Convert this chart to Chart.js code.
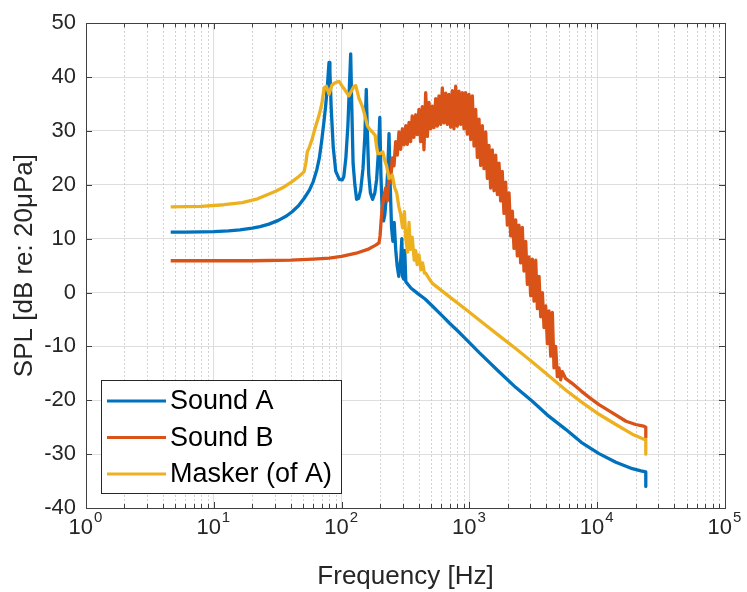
<!DOCTYPE html>
<html>
<head>
<meta charset="utf-8">
<title>SPL spectra</title>
<script src="https://cdn.jsdelivr.net/npm/chart.js@4.4.1/dist/chart.umd.min.js"></script>
<style>
  html, body { margin: 0; padding: 0; background: #fff; }
  canvas { display: block; }
</style>
</head>
<body>
<canvas id="spl" width="747" height="592"></canvas>
<script>
// Sound A: spectrum with the low-frequency resonances
const freqA = [4.6, 6, 8, 10, 13, 16, 20, 23, 27, 32,
  37, 41, 46, 51, 56, 60, 64, 67, 70, 73,
  75, 77.5, 79.7, 81, 83, 86, 90, 96, 101, 104,
  108, 112, 115, 117.8, 120, 123, 127, 131, 136, 141,
  147, 152, 156, 159, 163, 168, 175, 182, 188, 194,
  199, 203, 208, 213, 218, 224, 230, 235, 240, 246,
  252, 258, 265, 272, 280, 290, 296, 300, 306, 312,
  318, 350, 400, 450, 513, 600, 700, 800, 935, 1200,
  1706, 2300, 3107, 4200, 5670, 7500, 10330, 14000, 18830, 22000,
  24000, 24000];
const splA = [11.2, 11.2, 11.25, 11.3, 11.45, 11.65, 11.95, 12.25, 12.7, 13.4,
  14.2, 15.0, 16.1, 17.5, 19.0, 20.6, 22.8, 25.0, 28.3, 32,
  34.6, 38.5, 42.7, 41, 34, 27, 22.5, 21, 20.9, 21.5,
  25, 31, 38, 44.3, 35, 24, 20, 17.3, 17.5, 19,
  23, 29, 37.7, 30, 22, 18.5, 17.3, 18.5, 21, 26,
  32.5, 22, 15, 13.3, 14.5, 18, 23, 29.5, 20, 12,
  9.5, 13, 8, 5, 3, 6, 10, 3, 2.5, 7.8,
  2.0, 0.8, -0.3, -1.2, -2.5, -4.1, -5.7, -7.0, -8.6, -11.2,
  -14.7, -17.6, -20.2, -23, -25.4, -27.8, -29.9, -31.5, -32.7, -33.1,
  -33.3, -36];

// Sound B: broadband noise, traced back and forth between the band edges
const freqB = [4.6, 10, 20, 40, 60, 80, 100, 130, 160, 185,
  196, 200, 204, 208, 214,
  221, 228, 235, 242, 249, 257, 265, 273, 281, 290,
  299, 308, 318, 327, 337, 347, 357, 368, 380, 391,
  403, 415, 428, 441, 455, 469, 483, 498, 513, 528,
  545, 561, 578, 596, 614, 633, 653, 672, 692, 713,
  735, 757, 781, 804, 829, 854, 881, 907, 935, 963,
  993, 1023, 1055, 1087, 1120, 1154, 1189, 1225, 1262, 1301,
  1342, 1382, 1423, 1466, 1511, 1558, 1606, 1655, 1706, 1756,
  1808, 1864, 1922, 1981, 2042, 2104, 2168, 2234, 2302, 2372,
  2444, 2518, 2594, 2675, 2758, 2842, 2927, 3015, 3107, 3204,
  3304, 3404, 3508, 3614, 3724, 3837, 3954, 4074, 4198, 4326,
  4457, 4592, 4732, 4876, 5024, 5177, 5334,
  5670, 6330, 7500, 8800, 10330, 12500, 16800, 20000, 23000, 24000,
  24000];
const splB = [5.9, 5.9, 5.9, 6.0, 6.2, 6.4, 6.7, 7.3, 8.0, 8.8,
  9.2, 10.5, 13.5, 15.8, 17.8,
  19.4, 17.0, 22, 20.5, 25, 23.5, 28, 25.5, 29.8, 26.6,
  30.4, 27.4, 31.0, 27.5, 31.6, 28.0, 32.8, 28.8, 33.0, 29.3,
  34.0, 28.0, 34.5, 26.5, 37.1, 29.0, 35.3, 30.4, 34.6, 30.6,
  36.0, 30.9, 36.5, 31.2, 38.0, 31.5, 37.0, 31.2, 36.8, 30.7,
  37.5, 30.4, 38.3, 30.9, 37.4, 31.2, 37.1, 30.4, 37.1, 29.4,
  36.8, 28.4, 36.5, 27.2, 34.0, 25.1, 32.2, 23.6, 31.0, 23.0,
  29.8, 21.2, 27.3, 19.4, 26.5, 18.9, 25.5, 18.2, 24.0, 17.0,
  22.5, 14.7, 20.5, 12.5, 18.5, 10.5, 15.1, 8.2, 13.5, 6.8,
  12.5, 5.5, 12.1, 4.0, 9.5, 1.5, 6.6, -0.6, 6.2, -1.6,
  6.0, -3.0, 3.0, -4.5, 0, -6.5, -2.5, -9.5, -3.4, -11.8,
  -3.7, -14, -10, -15.6, -14, -16.2, -14.7,
  -16.0, -16.8, -18.3, -19.6, -20.8, -22.0, -23.9, -24.5, -24.8, -25.0,
  -26.9];

// Masker (of A)
const freqM = [4.6, 8, 12, 16.7, 22, 30.5, 36, 41, 46, 50.8,
  52.5, 53.9, 56, 59, 62, 66.5, 70, 73, 76, 79.7,
  84, 90, 95.5, 101, 107, 114, 120, 125, 129, 137,
  145, 150, 159, 166, 174, 183, 188, 192, 200, 210,
  218, 225, 235, 249, 260, 270, 280, 290, 300, 310,
  318, 328, 337, 345, 357, 370, 380, 390, 403, 417,
  430, 445, 455, 483, 513, 700, 935, 1300, 1706, 2300,
  3107, 4200, 5670, 7500, 10330, 14000, 18830, 23000, 24000, 24000];
const splM = [15.9, 16.0, 16.3, 16.7, 17.4, 18.8, 19.7, 20.6, 21.5, 22.4,
  24, 26.1, 27.0, 28.6, 30.5, 32.8, 35, 38.0, 38.3, 36.8,
  38.5, 39.0, 39.2, 38.3, 37.5, 36.5, 37.5, 38.3, 38.4, 36,
  34.6, 33.4, 31.0, 30.3, 29.8, 29.2, 27, 25.8, 25.8, 26.1,
  24.5, 23.5, 21.2, 21.8, 19.5, 18.5, 16.0, 14.5, 12.0, 15.0,
  10.0, 7.5, 13.0, 8.0, 10.3, 6.0, 7.8, 5.2, 7.0, 4.2,
  5.5, 3.6, 3.6, 2.6, 1.7, -0.8, -3.1, -5.8, -8.0, -10.4,
  -12.9, -15.5, -18.1, -20.3, -22.6, -24.5, -26.3, -27.2, -27.3, -30];

const seriesNames = ['Sound A', 'Sound B', 'Masker (of A)'];
const seriesColors = ['#0072BD', '#D95319', '#EDB120'];

const decadeTicks = [1, 10, 100, 1000, 10000, 100000];
const decadeExponents = ['0', '1', '2', '3', '4', '5'];
const minorSteps = [2, 3, 4, 5, 6, 7, 8, 9];
const splTicks = [-40, -30, -20, -10, 0, 10, 20, 30, 40, 50];
const splLabels = ['-40', '-30', '-20', '-10', '0', '10', '20', '30', '40', '50'];

const minorTicks = decadeTicks.slice(0, -1).flatMap(d => minorSteps.map(m => m * d));

function toPoints(freq, spl) {
  return freq.map((f, i) => ({ x: f, y: spl[i] }));
}

const FONT = "'Liberation Sans', Arial, Helvetica, sans-serif";
const AXIS_INK = '#262626';
Chart.defaults.font.family = FONT;

// dotted minor grid, box with inward ticks, 10^n labels and the legend
const matlabAxes = {
  id: 'matlabAxes',
  beforeDatasetsDraw(chart) {
    const { ctx, chartArea: a, scales: { x } } = chart;
    ctx.save();
    ctx.strokeStyle = '#c4c4c4';
    ctx.lineWidth = 1;
    ctx.setLineDash([1.5, 2.5]);
    minorTicks.forEach(v => {
      const px = Math.round(x.getPixelForValue(v)) + 0.5;
      ctx.beginPath();
      ctx.moveTo(px, a.top);
      ctx.lineTo(px, a.bottom);
      ctx.stroke();
    });
    ctx.restore();
  },
  afterDatasetsDraw(chart) {
    const { ctx, chartArea: a, scales: { x, y } } = chart;
    ctx.save();
    ctx.strokeStyle = '#404040';
    ctx.lineWidth = 1;
    ctx.beginPath();
    const tick = (px, len) => {
      ctx.moveTo(px, a.bottom);
      ctx.lineTo(px, a.bottom - len);
      ctx.moveTo(px, a.top);
      ctx.lineTo(px, a.top + len);
    };
    decadeTicks.forEach(v => tick(Math.round(x.getPixelForValue(v)) + 0.5, 6));
    minorTicks.forEach(v => tick(Math.round(x.getPixelForValue(v)) + 0.5, 4));
    splTicks.forEach(v => {
      const py = Math.round(y.getPixelForValue(v)) + 0.5;
      ctx.moveTo(a.left, py);
      ctx.lineTo(a.left + 6, py);
      ctx.moveTo(a.right, py);
      ctx.lineTo(a.right - 6, py);
    });
    ctx.stroke();
    ctx.strokeRect(Math.round(a.left) + 0.5, Math.round(a.top) + 0.5,
      Math.round(a.right - a.left), Math.round(a.bottom - a.top));

    // decade labels: "10" with a raised exponent
    ctx.fillStyle = AXIS_INK;
    ctx.textBaseline = 'alphabetic';
    ctx.textAlign = 'left';
    decadeTicks.forEach((v, i) => {
      const px = x.getPixelForValue(v);
      ctx.font = '22px ' + FONT;
      const wBase = ctx.measureText('10').width;
      ctx.font = '15px ' + FONT;
      const wExp = ctx.measureText(decadeExponents[i]).width;
      const left = px - (wBase + wExp) / 2 - 1;
      ctx.font = '22px ' + FONT;
      ctx.fillText('10', left, a.bottom + 26);
      ctx.font = '15px ' + FONT;
      ctx.fillText(decadeExponents[i], left + wBase + 1, a.bottom + 14);
    });

    // legend box
    const box = { x: 101, y: 380, w: 240, h: 113 };
    ctx.fillStyle = '#ffffff';
    ctx.fillRect(box.x, box.y, box.w, box.h);
    ctx.strokeStyle = '#262626';
    ctx.strokeRect(box.x + 0.5, box.y + 0.5, box.w, box.h);
    ctx.font = '27px ' + FONT;
    ctx.textBaseline = 'middle';
    ctx.fillStyle = '#000000';
    chart.data.datasets.forEach((ds, i) => {
      const rowY = box.y + 21 + i * 36.5;
      ctx.strokeStyle = ds.borderColor;
      ctx.lineWidth = 3;
      ctx.beginPath();
      ctx.moveTo(107, rowY);
      ctx.lineTo(166, rowY);
      ctx.stroke();
      ctx.fillText(ds.label, 170, rowY + 1);
    });
    ctx.restore();
  }
};

const datasets = [
  { label: seriesNames[0], data: toPoints(freqA, splA), order: 3 },
  { label: seriesNames[1], data: toPoints(freqB, splB), order: 2 },
  { label: seriesNames[2], data: toPoints(freqM, splM), order: 1 }
].map((ds, i) => Object.assign(ds, {
  borderColor: seriesColors[i],
  backgroundColor: seriesColors[i],
  borderWidth: 3.3,
  borderJoinStyle: 'round',
  pointRadius: 0,
  tension: 0,
  fill: false
}));

new Chart(document.getElementById('spl'), {
  type: 'line',
  data: { datasets },
  options: {
    responsive: false,
    devicePixelRatio: 1,
    animation: false,
    events: [],
    layout: { padding: { left: 0, right: 22, top: 16, bottom: 0 } },
    plugins: { legend: { display: false }, tooltip: { enabled: false } },
    scales: {
      x: {
        type: 'logarithmic',
        min: 1,
        max: 100000,
        afterBuildTicks: s => { s.ticks = decadeTicks.map(v => ({ value: v })); },
        afterFit: s => { s.height = 84; },
        ticks: { display: false },
        grid: { color: '#dedede', drawTicks: false },
        border: { display: false },
        title: {
          display: true,
          text: 'Frequency [Hz]',
          color: AXIS_INK,
          font: { size: 26 },
          padding: { top: 0, bottom: 0 }
        }
      },
      y: {
        type: 'linear',
        min: -40,
        max: 50,
        afterBuildTicks: s => { s.ticks = splTicks.map(v => ({ value: v })); },
        afterFit: s => { s.width = 86; },
        ticks: {
          padding: 10,
          color: AXIS_INK,
          font: { size: 22 },
          callback: v => splLabels[splTicks.indexOf(v)]
        },
        grid: { color: '#dedede', drawTicks: false },
        border: { display: false },
        title: {
          display: true,
          text: 'SPL [dB re: 20μPa]',
          color: AXIS_INK,
          font: { size: 26 },
          padding: { top: 9, bottom: 0 }
        }
      }
    }
  },
  plugins: [matlabAxes]
});
</script>
</body>
</html>
